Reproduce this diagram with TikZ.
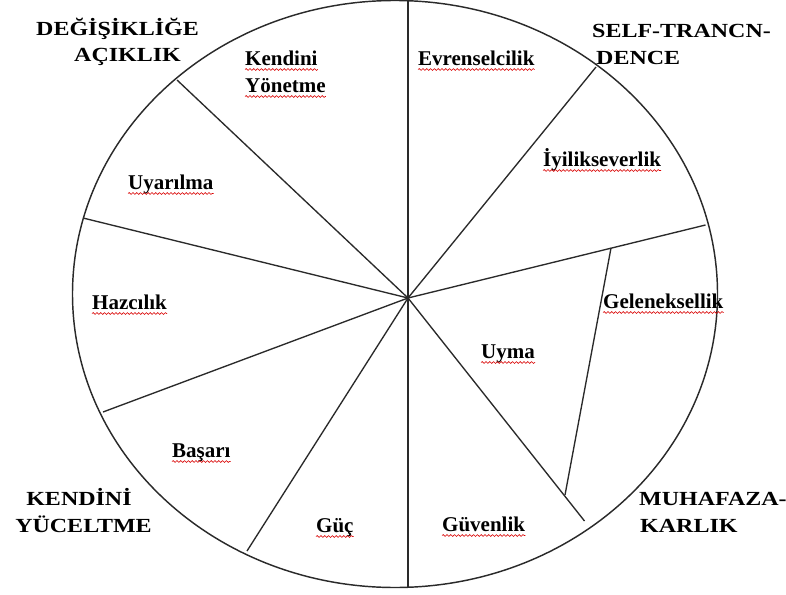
\documentclass[tikz,border=0pt]{standalone}
\usepackage{fontspec}
\setmainfont{Liberation Serif}
\newfontfamily\outerfont{Liberation Serif}[FakeStretch=1.2]
\usetikzlibrary{decorations.pathmorphing}
\definecolor{linegray}{HTML}{2A2A2A}
\tikzset{
  spoke/.style={draw=linegray, line width=1.35pt},
  rim/.style={draw=linegray, line width=1.45pt},
  inlabel/.style={anchor=base west, inner sep=0pt, font=\bfseries\fontsize{21}{27}\selectfont},
  outlabel/.style={anchor=base west, inner sep=0pt, font=\outerfont\bfseries\fontsize{20}{26}\selectfont},
  wavy/.style={draw=red!85!black, line width=0.6pt, decorate, decoration={snake, segment length=3.8pt, amplitude=0.9pt}}
}
\begin{document}
\begin{tikzpicture}[x=1pt,y=-1pt]
\useasboundingbox (0,0) rectangle (786,594);
% rim
\draw[rim] (395,294) ellipse [x radius=322.5pt, y radius=293.5pt];
% hub and spoke ends
\coordinate (c) at (408,298);
\coordinate (top) at (408,0.5);
\coordinate (bot) at (408,587.3);
\coordinate (p1) at (177,80);
\coordinate (p2) at (83,218);
\coordinate (p3) at (103,412);
\coordinate (p4) at (247,551);
\coordinate (p5) at (584.5,521);
\coordinate (p6) at (705.5,225);
\coordinate (p7) at (596,67);
\coordinate (j1) at (565,495);
\coordinate (j2) at (611,248);
\draw[spoke] (top) -- (bot);
\foreach \p in {p1,p2,p3,p4,p5,p6,p7} \draw[spoke] (c) -- (\p);
\draw[spoke] (j1) -- (j2);
% inner labels
\node[inlabel] (kendini) at (245,65) {Kendini};
\node[inlabel] (yonetme) at (245,92) {Yönetme};
\node[inlabel] (evren) at (418,65) {Evrenselcilik};
\node[inlabel] (iyilik) at (543,166) {İyilikseverlik};
\node[inlabel] (gelenek) at (603,308) {Geleneksellik};
\node[inlabel] (uyma) at (481,358) {Uyma};
\node[inlabel] (guven) at (442,531) {Güvenlik};
\node[inlabel] (guc) at (316,532) {Güç};
\node[inlabel] (basari) at (172,457) {Başarı};
\node[inlabel] (haz) at (92,309) {Hazcılık};
\node[inlabel] (uyar) at (128,189) {Uyarılma};
\foreach \n in {kendini,yonetme,evren,iyilik,gelenek,uyma,guven,guc,basari,haz,uyar}
  \draw[wavy] ([yshift=-4.5pt]\n.base west) -- ([yshift=-4.5pt]\n.base east);
% outer labels
\node[outlabel] (deg1) at (36,35.7) {DEĞİŞİKLİĞE};
\node[outlabel] (deg2) at (74,61.7) {AÇIKLIK};
\node[outlabel] (self1) at (592,37.3) {SELF-TRANCN-};
\node[outlabel] (self2) at (596,64) {DENCE};
\node[outlabel, anchor=base] (ky1) at (79,505.7) {KENDİNİ};
\node[outlabel, anchor=base] (ky2) at (83.5,532) {YÜCELTME};
\node[outlabel] (muh1) at (639,505.7) {MUHAFAZA-};
\node[outlabel] (muh2) at (640,532) {KARLIK};
\end{tikzpicture}
\end{document}
